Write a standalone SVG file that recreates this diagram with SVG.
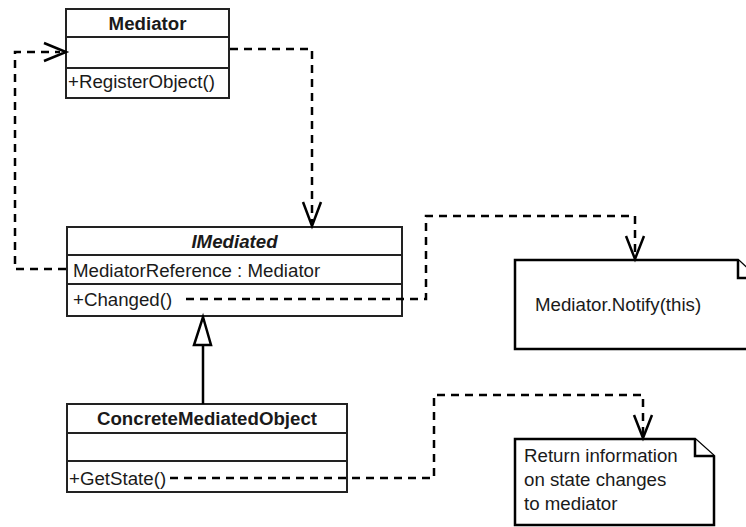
<svg xmlns="http://www.w3.org/2000/svg" width="746" height="527" viewBox="0 0 746 527">
<style>
.box{fill:#fff;stroke:#222;stroke-width:2}
.div{stroke:#222;stroke-width:2}
.t{font-family:"Liberation Sans",Arial,sans-serif;font-size:18.7px;fill:#1a1a1a}
.b{font-weight:bold}
.dash{fill:none;stroke:#000;stroke-width:2.5;stroke-dasharray:8,6}
.solid{fill:none;stroke:#000;stroke-width:2.5}
.open{fill:none;stroke:#000;stroke-width:2.5}
.note{fill:#fff;stroke:#000;stroke-width:2.5}
</style>
<rect width="746" height="527" fill="#fff"/>
<g id="mediator">
  <rect class="box" x="66" y="9" width="163" height="89"/>
  <line class="div" x1="66" y1="37" x2="229" y2="37"/>
  <line class="div" x1="66" y1="68" x2="229" y2="68"/>
  <text class="t b" x="147.5" y="30" text-anchor="middle">Mediator</text>
  <text class="t" x="68" y="88">+RegisterObject()</text>
</g>
<g id="imediated">
  <rect class="box" x="67" y="227" width="335" height="89"/>
  <line class="div" x1="67" y1="255" x2="402" y2="255"/>
  <line class="div" x1="67" y1="284" x2="402" y2="284"/>
  <text class="t b" x="234.5" y="248" text-anchor="middle" font-style="italic">IMediated</text>
  <text class="t" x="73" y="277">MediatorReference : Mediator</text>
  <text class="t" x="73" y="306">+Changed()</text>
</g>
<g id="concrete">
  <rect class="box" x="67" y="404" width="280" height="88"/>
  <line class="div" x1="67" y1="433" x2="347" y2="433"/>
  <line class="div" x1="67" y1="461" x2="347" y2="461"/>
  <text class="t b" x="207" y="425" text-anchor="middle">ConcreteMediatedObject</text>
  <text class="t" x="69" y="485">+GetState()</text>
</g>
<g id="note1">
  <path class="note" d="M515,260 H738 L757,278 V349 H515 Z"/>
  <path class="note" d="M738,260 V278 H757"/>
  <text class="t" x="535" y="311">Mediator.Notify(this)</text>
</g>
<g id="note2">
  <path class="note" d="M515,439 H695 L714,456 V525 H515 Z"/>
  <path class="note" d="M695,439 V456 H714"/>
  <text class="t" x="524" y="462">Return information</text>
  <text class="t" x="524" y="486">on state changes</text>
  <text class="t" x="524" y="510">to mediator</text>
</g>
<g id="connectors">
  <path class="dash" d="M66,269 H15 V52 H60"/>
  <path class="open" d="M44,43 L66,52 L44,61"/>
  <path class="dash" d="M230,49 H312 V222"/>
  <path class="open" d="M303,202 L312,226 L321,202"/>
  <path class="dash" d="M186,299 H426 V216 H635 V256"/>
  <path class="open" d="M626,236 L635,259 L644,236"/>
  <path class="dash" d="M170,478 H434 V395 H643 V435"/>
  <path class="open" d="M634,415 L643,438 L652,415"/>
  <path class="solid" d="M203,404 V345"/>
  <path d="M203,317 L211,345 L194,345 Z" fill="#fff" stroke="#000" stroke-width="2.5"/>
</g>
</svg>
